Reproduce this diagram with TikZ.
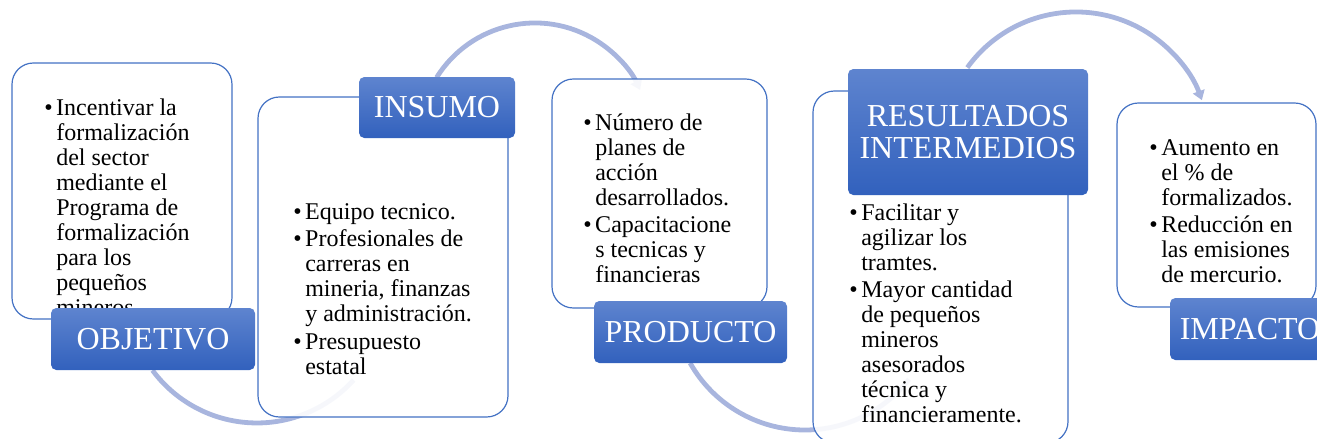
\documentclass[tikz,border=0pt]{standalone}
\usepackage{fontspec}
\setmainfont{Liberation Serif}
\usetikzlibrary{arrows.meta, fit}
\definecolor{borde}{HTML}{4472C4}
\definecolor{arcocol}{RGB}{168,181,222}
\definecolor{azulsup}{RGB}{94,132,207}
\definecolor{azulinf}{RGB}{50,97,189}
\newcommand{\bul}{\makebox[9pt][l]{\textbullet}}

\begin{document}
\begin{tikzpicture}[x=0.75pt, y=-0.75pt, line join=round,
	caja/.style={draw=borde, line width=0.9pt, fill=white, fill opacity=0.9, rounded corners=16pt, inner sep=0pt},
	etiqueta/.style={rounded corners=4pt, top color=azulsup, bottom color=azulinf, inner sep=0pt, text=white, font=\fontsize{24pt}{24pt}\selectfont, align=center},
	texto/.style={anchor=base west, inner sep=0pt, font=\fontsize{18pt}{18.75pt}\selectfont},
	arco/.style={draw=arcocol, line width=3.6pt}]
	\useasboundingbox (0,0) rectangle (1317,439);
	\clip (0,0) rectangle (1317,439);
	
	% Arcos
	\coordinate (ini1) at (152.5,370.3);
	\coordinate (ini2) at (436.6,77.5);
	\coordinate (ini3) at (690.1,363.0);
	\coordinate (ini4) at (967.3,67.6);
	\draw[arco] (ini1) arc[start angle=143.5, end angle=42, radius=130];
	\draw[arco, -{Triangle[width=9pt,length=7pt]}] (ini2) arc[start angle=212, end angle=335, radius=116];
	\draw[arco] (ini3) arc[start angle=150.5, end angle=38, radius=132];
	\draw[arco, -{Triangle[width=9pt,length=7pt]}] (ini4) arc[start angle=215.8, end angle=340, radius=134];
	
	% Cajas
	\node[caja, fit={(12,63) (232,319)}] (c1) {};
	\node[caja, fit={(258,97) (508,417)}] (c2) {};
	\node[caja, fit={(552,79) (767,308)}] (c3) {};
	\node[caja, fit={(813,91) (1068,443)}] (c4) {};
	\node[caja, fit={(1117,103) (1316,307)}] (c5) {};
	
	% Textos
	\node[texto] (t1) at (44,115.5) {\begin{tabular}[t]{@{}l@{}l@{}}
		\bul & Incentivar la\\ & formalización\\ & del sector\\ & mediante el\\ & Programa de\\ & formalización\\ & para los\\ & pequeños\\ & mineros
	\end{tabular}};
	\node[texto] (t2) at (293,219) {\begin{tabular}[t]{@{}l@{}l@{}}
		\bul & Equipo tecnico.\\[2pt]
		\bul & Profesionales de\\ & carreras en\\ & mineria, finanzas\\ & y administración.\\[2pt]
		\bul & Presupuesto\\ & estatal
	\end{tabular}};
	\node[texto] (t3) at (583,130) {\begin{tabular}[t]{@{}l@{}l@{}}
		\bul & Número de\\ & planes de\\ & acción\\ & desarrollados.\\[2pt]
		\bul & Capacitacione\\ & s tecnicas y\\ & financieras
	\end{tabular}};
	\node[texto] (t4) at (849,220) {\begin{tabular}[t]{@{}l@{}l@{}}
		\bul & Facilitar y\\ & agilizar los\\ & tramtes.\\[2pt]
		\bul & Mayor cantidad\\ & de pequeños\\ & mineros\\ & asesorados\\ & técnica y\\ & financieramente.
	\end{tabular}};
	\node[texto] (t5) at (1149,155) {\begin{tabular}[t]{@{}l@{}l@{}}
		\bul & Aumento en\\ & el \% de\\ & formalizados.\\[2pt]
		\bul & Reducción en\\ & las emisiones\\ & de mercurio.
	\end{tabular}};
	
	% Etiquetas
	\node[etiqueta, minimum width=153pt, minimum height=46.5pt] (objetivo) at (153,339) {OBJETIVO};
	\node[etiqueta, minimum width=117pt, minimum height=45.75pt] (insumo) at (437,107.5) {INSUMO};
	\node[etiqueta, minimum width=144.75pt, minimum height=46.5pt] (producto) at (690.5,332) {PRODUCTO};
	\node[etiqueta, minimum width=180pt, minimum height=94.5pt] (resultados) at (968,132) {RESULTADOS\\INTERMEDIOS};
	\node[etiqueta, minimum width=120pt, minimum height=46.5pt] (impacto) at (1250,329) {IMPACTO};
\end{tikzpicture}
\end{document}
